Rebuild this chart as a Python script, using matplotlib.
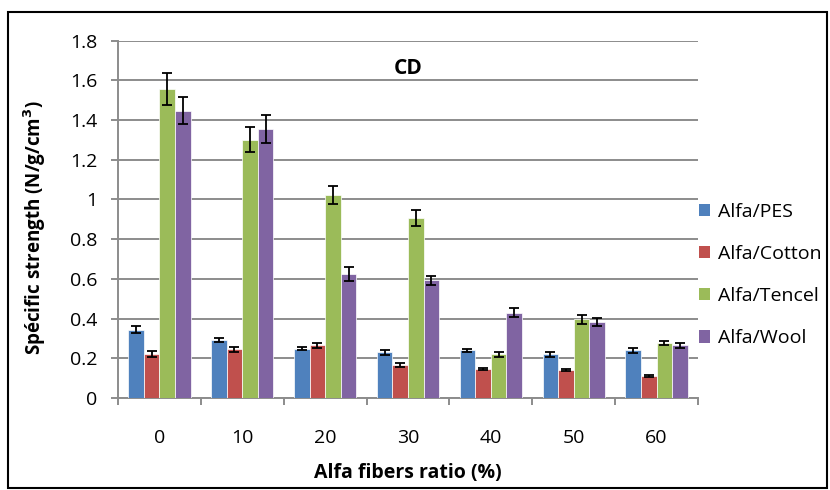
import matplotlib

matplotlib.use("Agg")
import matplotlib.pyplot as plt
import numpy as np
from matplotlib.patches import Patch, Rectangle

plt.rcParams["font.family"] = ["Open Sans", "DejaVu Sans"]

ratios = ["0", "10", "20", "30", "40", "50", "60"]
series = ["Alfa/PES", "Alfa/Cotton", "Alfa/Tencel", "Alfa/Wool"]
colors = ["#4F81BD", "#C0504D", "#9BBB59", "#8064A2"]

pes = [0.345, 0.292, 0.248, 0.231, 0.240, 0.221, 0.240]
cotton = [0.221, 0.246, 0.266, 0.166, 0.146, 0.141, 0.110]
tencel = [1.555, 1.302, 1.022, 0.907, 0.221, 0.396, 0.275]
wool = [1.448, 1.357, 0.625, 0.593, 0.429, 0.382, 0.266]

pes_err = [0.018, 0.012, 0.008, 0.012, 0.008, 0.012, 0.012]
cotton_err = [0.015, 0.012, 0.012, 0.010, 0.005, 0.005, 0.005]
tencel_err = [0.080, 0.062, 0.044, 0.042, 0.012, 0.022, 0.010]
wool_err = [0.070, 0.070, 0.035, 0.022, 0.022, 0.020, 0.012]

values = [pes, cotton, tencel, wool]
errors = [pes_err, cotton_err, tencel_err, wool_err]

W, H = 830, 490
fig = plt.figure(figsize=(W / 100, H / 100), dpi=100)
ax = fig.add_axes([118 / W, 1 - 398 / H, 580 / W, 357.3 / H])

x = np.arange(len(ratios))
w = 0.188
for i, (vals, errs, col) in enumerate(zip(values, errors, colors)):
    ax.bar(x + (i - 1.5) * w, vals, w, color=col, edgecolor="white", linewidth=0.5,
           yerr=errs, capsize=3.6,
           error_kw=dict(ecolor="black", elinewidth=1.3, capthick=1.3), zorder=3)

grid_col = "#8C8C8C"
ax.set_ylim(0, 1.8)
ax.set_yticks(np.arange(0, 1.81, 0.2))
ax.set_yticklabels(["0", "0.2", "0.4", "0.6", "0.8", "1", "1.2", "1.4", "1.6", "1.8"])
ax.yaxis.grid(True, color=grid_col, linewidth=1.4, zorder=0)
ax.set_axisbelow(True)

ax.set_xlim(-0.5, len(ratios) - 0.5)
ax.set_xticks(x)
ax.set_xticklabels(ratios)
ax.set_xticks(np.arange(len(ratios) + 1) - 0.5, minor=True)
ax.tick_params(axis="x", which="major", length=0, pad=22, labelsize=14)
ax.tick_params(axis="x", which="minor", length=5, width=1.4, color=grid_col, direction="out")
ax.tick_params(axis="y", length=5, width=1.4, color=grid_col, direction="out", pad=10, labelsize=14)

for side in ("top", "right"):
    ax.spines[side].set_visible(False)
for side in ("left", "bottom"):
    ax.spines[side].set_color(grid_col)
    ax.spines[side].set_linewidth(1.4)

fig.text(408 / W, 1 - 473 / H, "Alfa fibers ratio (%)", ha="center", va="center",
         fontsize=14, fontweight="bold")
fig.text(35 / W, 1 - 228 / H, "Spécific strength (N/g/cm$^\\mathbf{3}$)", ha="center", va="center",
         rotation=90, fontsize=13.5, fontweight="bold")
fig.text(408 / W, 1 - 68 / H, "CD", ha="center", va="center", fontsize=15, fontweight="bold")

handles = [Patch(facecolor=c, edgecolor="none") for c in colors]
fig.legend(handles, series, loc="center left", bbox_to_anchor=(691 / W, 1 - 275 / H),
           frameon=False, fontsize=14, handlelength=0.6, handleheight=0.6,
           handletextpad=0.4, labelspacing=1.25, borderaxespad=0)

fig.patches.append(Rectangle((8 / W, 2 / H), 819 / W, 476 / H, transform=fig.transFigure,
                             fill=False, edgecolor="black", linewidth=1.5))

fig.savefig("out.png", dpi=100)
